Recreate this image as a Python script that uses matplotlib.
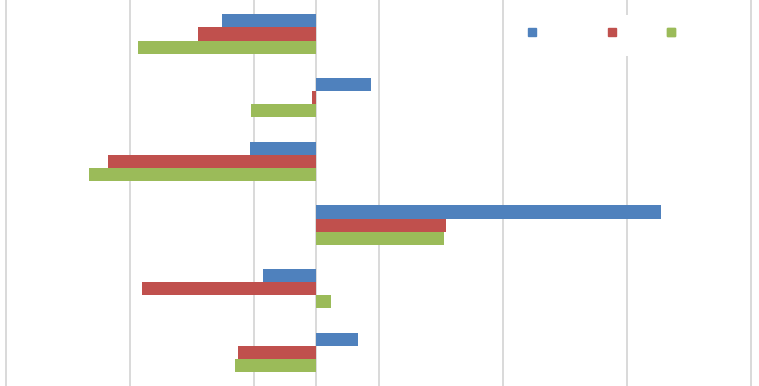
import matplotlib
matplotlib.use("Agg")
import matplotlib.pyplot as plt
from matplotlib.lines import Line2D
from matplotlib.patches import Rectangle
import numpy as np

categories = ["C1", "C2", "C3", "C4", "C5", "C6"]
series_names = ["Series 1", "Series 2", "Series 3"]
series1 = [-7.6, 4.38, -5.34, 27.75, -4.32, 3.38]
series2 = [-9.5, -0.32, -16.77, 10.47, -14.03, -6.30]
series3 = [-14.33, -5.29, -18.33, 10.25, 1.18, -6.52]
colors = ["#4F81BD", "#C0504D", "#9BBB59"]
grid_ticks = [-25, -15, -5, 5, 15, 25, 35]

fig = plt.figure(figsize=(7.59, 3.86), dpi=100)
ax = fig.add_axes([5 / 759, 0.0, 747 / 759, 1.0])

y = np.arange(len(categories))
h = 0.206
for i, (vals, c) in enumerate(zip([series1, series2, series3], colors)):
    ax.barh(y + (i - 1) * h, vals, height=h, color=c, zorder=3, linewidth=0)

ax.set_xlim(-25.08, 35.08)
ax.set_ylim(5.526, -0.534)
ax.set_xticks(grid_ticks)
ax.set_yticks([])
ax.grid(axis="x", color="#D0D0D0", linewidth=1.1, zorder=0)
ax.axvline(0, color="#D0D0D0", linewidth=1.1, zorder=1)
ax.tick_params(axis="x", length=0, labelbottom=False)
for s in ax.spines.values():
    s.set_visible(False)

# legend background
ax.add_patch(Rectangle((0.683, 0.855), 0.302, 0.106, transform=ax.transAxes,
                       facecolor="white", edgecolor="none", zorder=4))
xs = [0.706, 0.813, 0.891]
for name, c, xp in zip(series_names, colors, xs):
    handle = Line2D([], [], marker="s", linestyle="none", color=c, markersize=5.5)
    leg = ax.legend([handle], [""], loc="center", bbox_to_anchor=(xp, 0.9145),
                    bbox_transform=ax.transAxes, frameon=False, handlelength=1.0,
                    handletextpad=0, borderpad=0, borderaxespad=0)
    leg.set_zorder(5)
    ax.add_artist(leg)

fig.savefig("out.png", dpi=100)
